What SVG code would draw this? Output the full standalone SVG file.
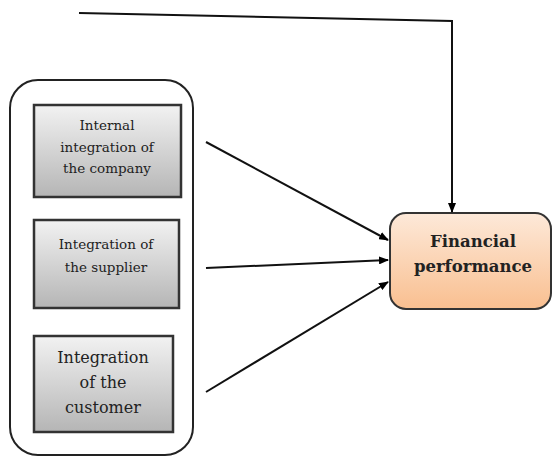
<svg xmlns="http://www.w3.org/2000/svg" width="553" height="457" viewBox="0 0 553 457">
<defs>
<linearGradient id="gray" x1="0" y1="0" x2="0" y2="1">
<stop offset="0" stop-color="#f2f2f2"/>
<stop offset="1" stop-color="#b5b5b5"/>
</linearGradient>
<linearGradient id="orange" x1="0" y1="0" x2="0" y2="1">
<stop offset="0" stop-color="#fde9d9"/>
<stop offset="1" stop-color="#f9bf90"/>
</linearGradient>
<marker id="ah" markerWidth="10" markerHeight="8" refX="9" refY="4" orient="auto" markerUnits="userSpaceOnUse">
<path d="M0,0 L10,4 L0,8 z" fill="#000"/>
</marker>
<style>
.box{fill:url(#gray);stroke:#333;stroke-width:2.5}
.t{font-family:"DejaVu Serif","Liberation Serif",serif;fill:#222;text-anchor:middle}
.s{font-size:13.5px}
.l{font-size:16px}
.c{stroke:#111;stroke-width:2;fill:none}
</style>
</defs>
<rect width="553" height="457" fill="#fff"/>
<g id="container">
<rect x="10" y="80" width="183" height="375" rx="28" fill="none" stroke="#222" stroke-width="2"/>
</g>
<g id="node1">
<rect class="box" x="34" y="105" width="147" height="92"/>
<text class="t s" x="107" y="130">Internal</text>
<text class="t s" x="107" y="152">integration of</text>
<text class="t s" x="107" y="173">the company</text>
</g>
<g id="node2">
<rect class="box" x="34" y="220" width="145" height="88"/>
<text class="t s" x="106" y="249">Integration of</text>
<text class="t s" x="106" y="272">the supplier</text>
</g>
<g id="node3">
<rect class="box" x="34" y="336" width="139" height="96"/>
<text class="t l" x="103" y="363">Integration</text>
<text class="t l" x="103" y="388">of the</text>
<text class="t l" x="103" y="413">customer</text>
</g>
<g id="financial">
<rect x="390" y="213" width="161" height="96" rx="16" fill="url(#orange)" stroke="#333" stroke-width="2"/>
<text class="t" x="473" y="247" font-size="16.5" font-weight="bold">Financial</text>
<text class="t" x="473" y="272" font-size="16.5" font-weight="bold">performance</text>
</g>
<g id="connectors">
<polyline class="c" points="79,13 452,21 452,212" marker-end="url(#ah)" stroke-width="1.5"/>
<line class="c" x1="206" y1="142" x2="388" y2="240" marker-end="url(#ah)"/>
<line class="c" x1="206" y1="268" x2="388" y2="260" marker-end="url(#ah)"/>
<line class="c" x1="206" y1="392" x2="388" y2="282" marker-end="url(#ah)"/>
</g>
</svg>
